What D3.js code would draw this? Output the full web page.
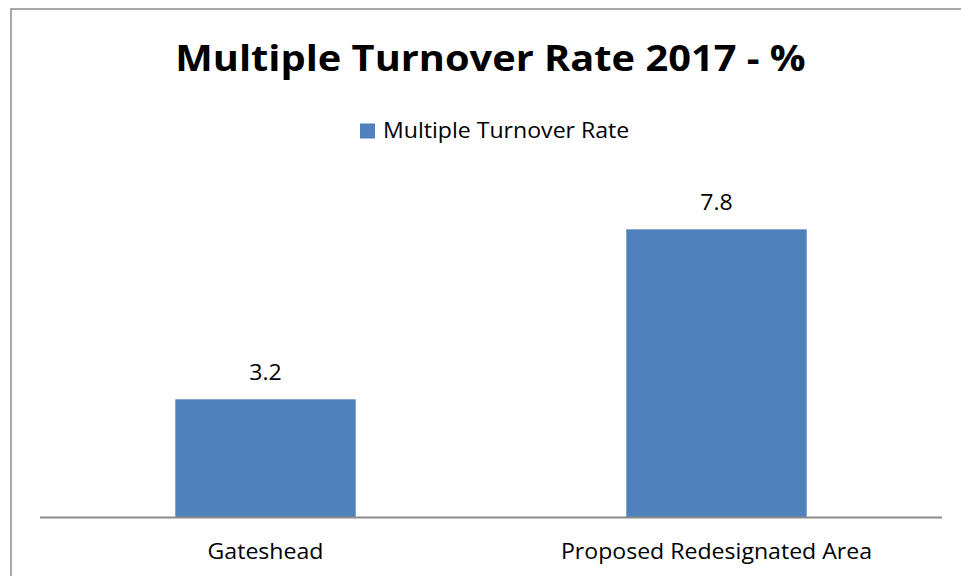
<!DOCTYPE html>
<html>
<head>
<meta charset="utf-8">
<script src="https://cdn.jsdelivr.net/npm/d3@7"></script>
<style>
  html, body { margin: 0; padding: 0; background: #fff; }
  svg { display: block; }
  text { font-family: "Open Sans", Lato, sans-serif; fill: #000; font-variant-ligatures: none; }
</style>
</head>
<body>
<svg id="chart" width="961" height="576"></svg>
<script>
// Data
const categories = ["Gateshead", "Proposed Redesignated Area"];
const seriesName = "Multiple Turnover Rate";
const values = [3.2, 7.8];
const title = "Multiple Turnover Rate 2017 - %";

const svg = d3.select("#chart");
const barColor = "#4f81bd";
const bodyStretch = 1.05;   // slightly wide lettering for labels
const titleStretch = 1.105;

// Chart frame (continues past the right and bottom edges of the view)
svg.append("rect")
  .attr("x", 11).attr("y", 9)
  .attr("width", 1000).attr("height", 600)
  .attr("fill", "#fff")
  .attr("stroke", "#8c8c8c")
  .attr("stroke-width", 1.5);

const plot = { left: 40, right: 942, top: 185, bottom: 517.5 };

const x = d3.scaleBand()
  .domain(categories)
  .range([plot.left, plot.right])
  .paddingInner(0.6)
  .paddingOuter(0.3);

const y = d3.scaleLinear()
  .domain([0, 9])
  .range([plot.bottom, plot.top]);

// Title
svg.append("g")
  .attr("transform", `translate(490.5,71) scale(${titleStretch},1)`)
  .append("text")
  .attr("text-anchor", "middle")
  .style("font-weight", "bold")
  .style("font-size", "36px")
  .text(title);

// Legend
const legend = svg.append("g");
legend.append("rect")
  .attr("x", 360).attr("y", 123.5)
  .attr("width", 15).attr("height", 15)
  .attr("fill", barColor);
legend.append("g")
  .attr("transform", `translate(383,138) scale(${bodyStretch},1)`)
  .append("text")
  .style("font-size", "22px")
  .text(seriesName);

// Bars
svg.append("g").selectAll("rect")
  .data(values)
  .join("rect")
  .attr("x", (d, i) => x(categories[i]))
  .attr("y", d => y(d))
  .attr("width", x.bandwidth())
  .attr("height", d => y(0) - y(d))
  .attr("fill", barColor);

// Value labels
svg.append("g").selectAll("g")
  .data(values)
  .join("g")
  .attr("transform", (d, i) =>
    `translate(${x(categories[i]) + x.bandwidth() / 2},${y(d) - 19}) scale(${bodyStretch},1)`)
  .append("text")
  .attr("text-anchor", "middle")
  .style("font-size", "22px")
  .text(d => d.toFixed(1));

// Category axis
const axis = d3.axisBottom(x).tickSize(0).tickPadding(0);
const gx = svg.append("g")
  .attr("transform", `translate(0,${plot.bottom})`)
  .call(axis);
gx.select(".domain")
  .attr("d", `M${plot.left},0H${plot.right}`)
  .attr("stroke", "#8c8c8c")
  .attr("stroke-width", 2);
gx.selectAll(".tick text")
  .attr("y", 0)
  .attr("dy", 0)
  .attr("transform", `translate(0,41) scale(${bodyStretch},1)`)
  .style("font-size", "22px")
  .style("font-family", "'Open Sans', Lato, sans-serif")
  .attr("fill", "#000");
</script>
</body>
</html>
